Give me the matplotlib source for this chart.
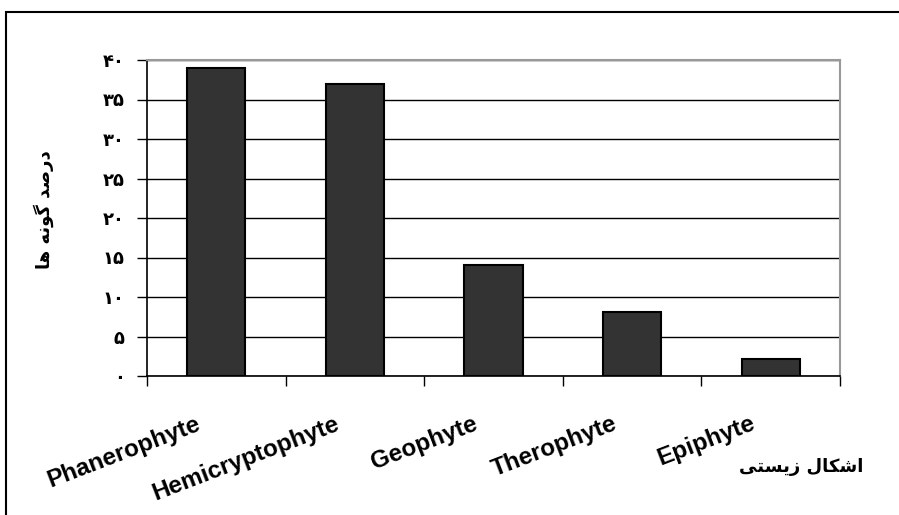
import matplotlib
matplotlib.use("Agg")
import matplotlib.pyplot as plt
import matplotlib.transforms as mtransforms
from matplotlib.patches import Rectangle
import numpy as np

# data
categories = ['Phanerophyte', 'Hemicryptophyte', 'Geophyte', 'Therophyte', 'Epiphyte']
percent = [39.0, 37.0, 14.0, 8.1, 2.1]
y_ticks = [0, 5, 10, 15, 20, 25, 30, 35, 40]

# persian text, pre-shaped (presentation forms, visual order) since matplotlib has no bidi
y_title = '\uFE8E\uFEEB \uFEEA\uFEE7\uFEEE\uFB94 \uFEAA\uFEBB\uFEAD\uFEA9'   # درصد گونه ها
x_title = '\uFBFD\uFE98\uFEB4\uFBFE\uFEAF \uFEDD\uFE8E\uFB91\uFEB7\uFE8D'   # اشکال زیستی

fa_digits = str.maketrans('0123456789', '\u06F0\u06F1\u06F2\u06F3\u06F4\u06F5\u06F6\u06F7\u06F8\u06F9')

def fa(n):
    return str(n).translate(fa_digits)

fig = plt.figure(figsize=(8.99, 5.15), dpi=100)
ax = fig.add_axes([147/899, 1-376/515, (840-147)/899, (376-60)/515])

x = np.arange(len(categories))
ax.bar(x, percent, width=0.42, color='#333333', edgecolor='black', linewidth=1.5, zorder=3)

ax.set_xlim(-0.5, len(categories)-0.5)
ax.set_ylim(0, 40)
ax.set_yticks(y_ticks)
ax.set_yticklabels([fa(v) for v in y_ticks], fontsize=13, fontweight='bold', family='DejaVu Sans')
ax.yaxis.grid(True, color='black', linewidth=1, zorder=0)
ax.tick_params(axis='y', direction='out', length=7, width=1, pad=9)

# category labels: rotated, text end sits left of and below the category centre
ax.set_xticks(x)
ax.set_xticklabels(categories, rotation=21, ha='right', va='baseline', rotation_mode='anchor',
                   fontsize=17.5, fontweight='bold', family='Liberation Sans')
ax.tick_params(axis='x', which='major', length=0, pad=38)
shift = mtransforms.ScaledTranslation(-14/100, 0, fig.dpi_scale_trans)
for lab in ax.get_xticklabels():
    lab.set_transform(lab.get_transform() + shift)
ax.set_xticks(np.arange(len(categories)+1) - 0.5, minor=True)
ax.tick_params(axis='x', which='minor', direction='out', length=7, width=1)

for s in ['left', 'bottom']:
    ax.spines[s].set_color('black')
    ax.spines[s].set_linewidth(1.2)
for s in ['top', 'right']:
    ax.spines[s].set_color('#999999')
    ax.spines[s].set_linewidth(1.5)

fig.text(44/899, 1-210/515, y_title, rotation=90, ha='center', va='center',
         fontsize=13, fontweight='bold', family='DejaVu Sans')
fig.text(801/899, 1-467/515, x_title, ha='center', va='center',
         fontsize=13, fontweight='bold', family='DejaVu Sans')

fig.patches.append(Rectangle((6/899, -0.1), 1.2, 1.1-12/515, transform=fig.transFigure,
                             fill=False, edgecolor='black', linewidth=1.5))

fig.savefig('out.png', dpi=100)
